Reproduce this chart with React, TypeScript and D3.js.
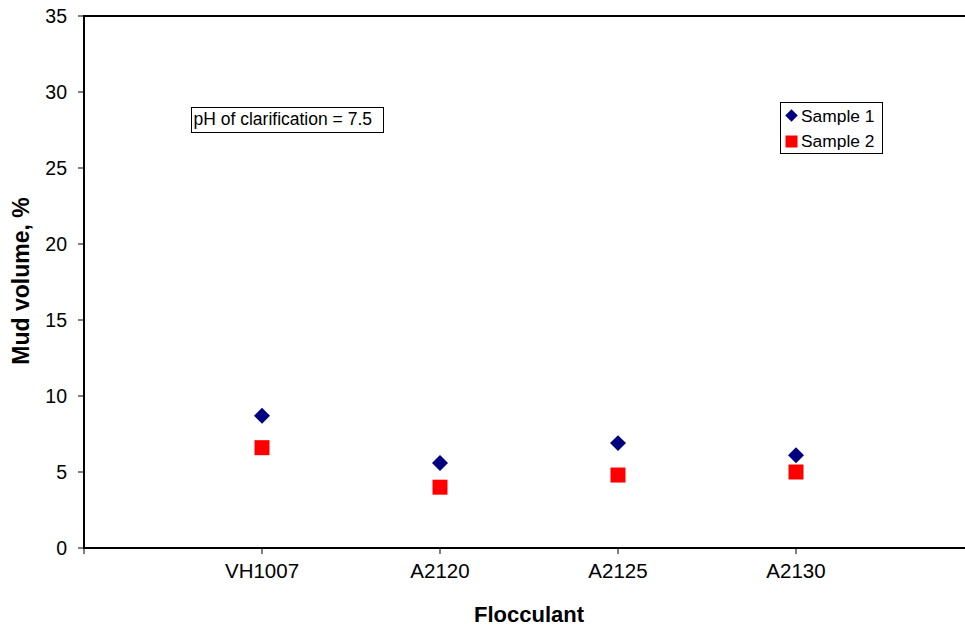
import React from "react";
import * as d3 from "d3";

const categories = ["VH1007", "A2120", "A2125", "A2130"];
const sample1 = [8.7, 5.6, 6.9, 6.1];
const sample2 = [6.6, 4.0, 4.8, 5.0];
const yTicks = [0, 5, 10, 15, 20, 25, 30, 35];
const seriesNames = ["Sample 1", "Sample 2"];
const annotation = "pH of clarification = 7.5";

const W = 965;
const H = 627;
const left = 84;
const top = 16;
const bottom = 548;

export default function App() {
  const x = d3.scaleLinear().domain([0, categories.length + 1]).range([left, 974]);
  const y = d3.scaleLinear().domain([0, 35]).range([bottom, top]);
  const diamond = d3.symbol().type(d3.symbolDiamond2).size(163)();
  const legendDiamond = d3.symbol().type(d3.symbolDiamond2).size(100)();
  const font = "Arial, 'Liberation Sans', sans-serif";
  const xTickPositions = d3.range(0, categories.length + 1);

  return (
    <svg width={W} height={H} style={{ position: "absolute", left: 0, top: 0, display: "block", background: "#fff" }} fontFamily={font}>
      {/* top border */}
      <line x1={left} x2={W} y1={y(35)} y2={y(35)} stroke="#000" strokeWidth={2} />
      {/* y axis */}
      <line x1={left} x2={left} y1={y(35) - 1} y2={bottom + 1} stroke="#000" strokeWidth={2} />
      {yTicks.map((t) => (
        <g key={t}>
          <line x1={left - 6} x2={left} y1={y(t)} y2={y(t)} stroke="#000" strokeWidth={1} />
          <text x={67} y={y(t)} dy="0.38em" textAnchor="end" fontSize={19.5} fill="#000">
            {t}
          </text>
        </g>
      ))}
      {/* x axis */}
      <line x1={left - 1} x2={W} y1={bottom} y2={bottom} stroke="#000" strokeWidth={2} />
      {xTickPositions.map((i) => (
        <line key={i} x1={x(i)} x2={x(i)} y1={bottom} y2={bottom + 6} stroke="#000" strokeWidth={1} />
      ))}
      {categories.map((c, i) => (
        <text key={c} x={x(i + 1)} y={577.5} textAnchor="middle" fontSize={20.5} fill="#000">
          {c}
        </text>
      ))}
      {/* axis titles */}
      <text x={529} y={622} textAnchor="middle" fontSize={22} fontWeight="bold" fill="#000">
        Flocculant
      </text>
      <text
        transform={`translate(29,${281}) rotate(-90)`}
        textAnchor="middle"
        fontSize={23}
        fontWeight="bold"
        fill="#000"
      >
        Mud volume, %
      </text>
      {/* points */}
      {sample1.map((v, i) => (
        <path key={"s1" + i} d={diamond} transform={`translate(${x(i + 1)},${y(v)})`} fill="#000080" />
      ))}
      {sample2.map((v, i) => (
        <rect key={"s2" + i} x={x(i + 1) - 7.5} y={y(v) - 7.5} width={15} height={15} fill="#ff0000" />
      ))}
      {/* annotation */}
      <rect x={191.5} y={107.5} width={192} height={25} fill="#fff" stroke="#000" strokeWidth={1} />
      <text x={193.5} y={124.5} fontSize={17.5} fill="#000">
        {annotation}
      </text>
      {/* legend */}
      <rect x={780.5} y={102.5} width={102} height={51} fill="#fff" stroke="#000" strokeWidth={1} />
      <path d={legendDiamond} transform={`translate(791.5,115.5)`} fill="#000080" />
      <rect x={785.5} y={135.5} width={12} height={12} fill="#ff0000" />
      <text x={801} y={122.3} fontSize={17.4} fill="#000">
        {seriesNames[0]}
      </text>
      <text x={801} y={147.3} fontSize={17.4} fill="#000">
        {seriesNames[1]}
      </text>
    </svg>
  );
}
